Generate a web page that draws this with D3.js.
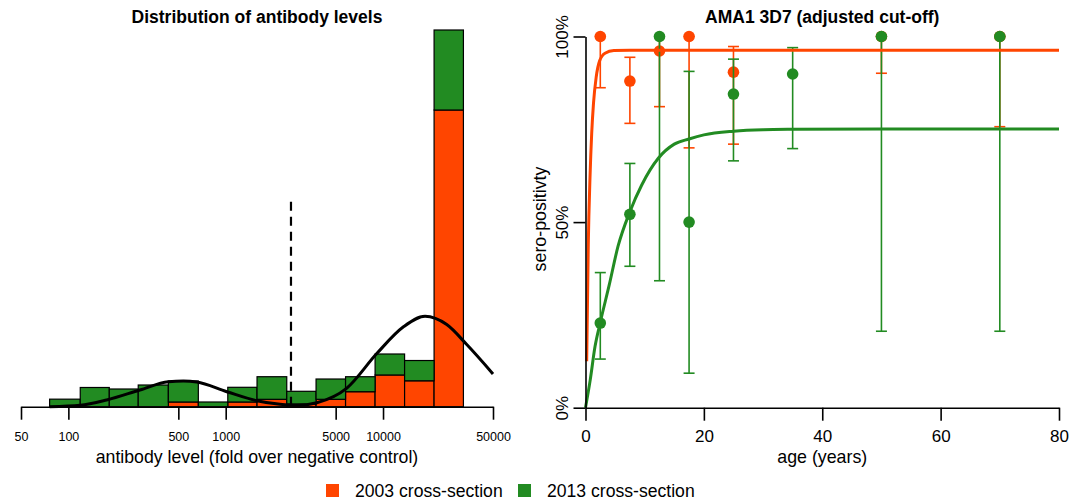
<!DOCTYPE html>
<html>
<head>
<meta charset="utf-8">
<script src="https://cdn.jsdelivr.net/npm/d3@7"></script>
<style>
    body { margin: 0; background: #fff; }
    svg text { font-family: "Liberation Sans", Arial, sans-serif; fill: #000; }
</style>
</head>
<body>
<div id="chart"></div>
<script>

    // ---- left panel: histogram of antibody levels ----
    var binEdges = [76, 119, 182, 278, 432, 670, 1031, 1582, 2444, 3753, 5779, 8902, 13710, 21110, 32430];
    var hist2003 = [0, 0, 0, 0, 1.25, 0, 1.25, 1.96, 0.72, 1.96, 3.98, 8.42, 6.88, 78.76];
    var hist2013 = [2.0, 5.1, 4.7, 5.76, 5.57, 1.25, 3.9, 6.0, 3.37, 5.39, 3.98, 5.57, 5.38, 21.24];
    var levelTicks = [50, 100, 500, 1000, 5000, 10000, 50000];
    var cutoff = 2600;

    // mixture density
    var densLevel = [76, 119, 175, 285, 432, 538, 655, 1016, 1575, 2216, 2832, 3795, 5888, 9125, 13490, 18500, 25410, 34050, 50000];
    var densHeight = [0, 0.37, 1.78, 4.43, 6.64, 6.82, 6.55, 3.98, 1.59, 0.64, 0.37, 1.06, 4.94, 14.1, 21.2, 24.0, 21.8, 16.5, 8.7];

    // ---- right panel: sero-positivity by age ----
    var age2003 = [2.5, 7.5, 12.5, 17.5, 25, 50, 70];
    var sero2003 = [100, 88.0, 96.1, 100, 90.4, 100, 100];
    var low2003 = [86.2, 76.6, 81.1, 70.0, 71.0, 90.1, 75.7];
    var high2003 = [100, 94.4, 100, 100, 97.3, 100, 100];

    var age2013 = [2.5, 7.5, 12.5, 17.5, 25, 35, 50, 70];
    var sero2013 = [22.8, 52.1, 100, 50, 84.5, 89.9, 100, 100];
    var low2013 = [13.1, 38.1, 34.2, 9.3, 66.5, 69.8, 20.6, 20.6];
    var high2013 = [36.4, 65.8, 100, 90.6, 93.9, 97.0, 100, 100];

    // fitted curves
    var fitAge2003 = [0.2, 0.47, 0.76, 1.05, 1.35, 1.8, 2.4, 3.3, 4.8, 7.5, 80];
    var fit2003 = [12.5, 44, 62, 74, 82, 89, 93.5, 95.5, 96.2, 96.3, 96.3];
    var fitAge2013 = [0, 0.8, 1.6, 2.5, 4, 5.5, 7.5, 9.5, 12.3, 15, 17.5, 20, 25, 30, 35, 50, 80];
    var fit2013 = [0, 7.5, 16.4, 23, 33, 43.5, 52.8, 60, 67.2, 71, 72.4, 73.5, 74.5, 74.9, 75.0, 75.1, 75.1];

    var ageTicks = [0, 20, 40, 60, 80];
    var seroTicks = [0, 50, 100];

    var legendLabels = ["2003 cross-section", "2013 cross-section"];
    var col2003 = "#FF4500", col2013 = "#228B22";

    var svg = d3.select("#chart")
        .append("svg")
        .attr("width", 1079)
        .attr("height", 500);

    svg.append("rect").attr("width", 1079).attr("height", 500).attr("fill", "#fff");

    // ================= left panel =================
    var x = d3.scaleLog()
        .domain([50, 50000])
        .range([21, 493]);
    var y = d3.scaleLinear()
        .domain([0, 100])
        .range([406.7, 30]);

    var bins = hist2003.map(function (v, i) {
        return {x0: binEdges[i], x1: binEdges[i + 1], a: v, b: hist2013[i]};
    });

    // 2003 at the bottom of each bar
    svg.append("g")
        .selectAll("rect")
        .data(bins.filter(function (d) { return d.a > 0; }))
        .enter()
        .append("rect")
        .attr("x", function (d) { return x(d.x0); })
        .attr("width", function (d) { return x(d.x1) - x(d.x0); })
        .attr("y", function (d) { return y(d.a); })
        .attr("height", function (d) { return y(0) - y(d.a); })
        .attr("fill", col2003)
        .attr("stroke", "#000")
        .attr("stroke-width", 1.2);

    // 2013 stacked on top
    svg.append("g")
        .selectAll("rect")
        .data(bins)
        .enter()
        .append("rect")
        .attr("x", function (d) { return x(d.x0); })
        .attr("width", function (d) { return x(d.x1) - x(d.x0); })
        .attr("y", function (d) { return y(d.a + d.b); })
        .attr("height", function (d) { return y(d.a) - y(d.a + d.b); })
        .attr("fill", col2013)
        .attr("stroke", "#000")
        .attr("stroke-width", 1.2);

    // cut-off
    svg.append("line")
        .attr("x1", x(cutoff)).attr("x2", x(cutoff))
        .attr("y1", y(54.4)).attr("y2", y(0))
        .attr("stroke", "#000")
        .attr("stroke-width", 2.2)
        .attr("stroke-dasharray", "9,6");

    // density curve
    var dens = densLevel.map(function (v, i) { return [v, densHeight[i]]; });
    svg.append("path")
        .datum(dens)
        .attr("fill", "none")
        .attr("stroke", "#000")
        .attr("stroke-width", 3)
        .attr("d", d3.line()
            .curve(d3.curveMonotoneX)
            .x(function (d) { return x(d[0]); })
            .y(function (d) { return y(d[1]); }));

    // Add X axis
    var ax = svg.append("g")
        .attr("transform", "translate(0," + y(0) + ")")
        .call(d3.axisBottom(x)
            .tickValues(levelTicks)
            .tickFormat(d3.format("d"))
            .tickSize(13)
            .tickSizeOuter(0)
            .tickPadding(12));
    ax.selectAll("path, line").attr("stroke", "#000").attr("stroke-width", 1.6);
    ax.selectAll("text").style("font-size", "12.5px");

    svg.append("text")
        .attr("x", 257).attr("y", 462.5)
        .style("text-anchor", "middle")
        .style("font-size", "17.7px")
        .text("antibody level (fold over negative control)");

    svg.append("text")
        .attr("x", 257).attr("y", 23)
        .style("text-anchor", "middle")
        .style("font-size", "17.5px")
        .style("font-weight", "bold")
        .text("Distribution of antibody levels");

    // ================= right panel =================
    var x2 = d3.scaleLinear()
        .domain([0, 80])
        .range([585.5, 1059]);
    var y2 = d3.scaleLinear()
        .domain([0, 100])
        .range([407.7, 36.5]);

    function drawGroup(ages, vals, lows, highs, col) {
        var pts = ages.map(function (a, i) {
            return {age: a, v: vals[i], lo: lows[i], hi: highs[i]};
        });
        var g = svg.append("g");
        g.selectAll("line.err")
            .data(pts)
            .enter()
            .append("line")
            .attr("class", "err")
            .attr("x1", function (d) { return x2(d.age); })
            .attr("x2", function (d) { return x2(d.age); })
            .attr("y1", function (d) { return y2(d.hi); })
            .attr("y2", function (d) { return y2(d.lo); })
            .attr("stroke", col)
            .attr("stroke-width", 1.6);
        ["lo", "hi"].forEach(function (k) {
            g.selectAll("line.cap" + k)
                .data(pts)
                .enter()
                .append("line")
                .attr("class", "cap" + k)
                .attr("x1", function (d) { return x2(d.age) - 5.5; })
                .attr("x2", function (d) { return x2(d.age) + 5.5; })
                .attr("y1", function (d) { return y2(d[k]); })
                .attr("y2", function (d) { return y2(d[k]); })
                .attr("stroke", col)
                .attr("stroke-width", 1.6);
        });
        g.selectAll("circle")
            .data(pts)
            .enter()
            .append("circle")
            .attr("cx", function (d) { return x2(d.age); })
            .attr("cy", function (d) { return y2(d.v); })
            .attr("r", 5.8)
            .style("fill", col);
    }

    function drawFit(ages, vals, col) {
        svg.append("path")
            .datum(ages.map(function (a, i) { return [a, vals[i]]; }))
            .attr("fill", "none")
            .attr("stroke", col)
            .attr("stroke-width", 3)
            .attr("d", d3.line()
                .curve(d3.curveMonotoneX)
                .x(function (d) { return x2(d[0]); })
                .y(function (d) { return y2(d[1]); }));
    }

    drawGroup(age2003, sero2003, low2003, high2003, col2003);
    drawGroup(age2013, sero2013, low2013, high2013, col2013);
    drawFit(fitAge2013, fit2013, col2013);
    drawFit(fitAge2003, fit2003, col2003);

    // Add X axis
    var ax2 = svg.append("g")
        .attr("transform", "translate(0," + y2(0) + ")")
        .call(d3.axisBottom(x2)
            .tickValues(ageTicks)
            .tickSize(13)
            .tickSizeOuter(0)
            .tickPadding(9));
    ax2.selectAll("path, line").attr("stroke", "#000").attr("stroke-width", 1.6);
    ax2.selectAll("text").style("font-size", "17px");

    // Add Y axis
    var ay2 = svg.append("g")
        .attr("transform", "translate(" + x2(0) + ",0)")
        .call(d3.axisLeft(y2)
            .tickValues(seroTicks)
            .tickFormat(function (d) { return d + "%"; })
            .tickSize(12)
            .tickSizeOuter(0));
    ay2.selectAll("path, line").attr("stroke", "#000").attr("stroke-width", 1.6);
    ay2.selectAll("text")
        .style("font-size", "17px")
        .style("text-anchor", "middle")
        .attr("transform", "rotate(-90)")
        .attr("x", 0)
        .attr("y", -18)
        .attr("dy", 0);

    // text label for the y axis
    svg.append("text")
        .attr("transform", "translate(546," + 219 + ") rotate(-90)")
        .style("text-anchor", "middle")
        .style("font-size", "17.8px")
        .text("sero-positivty");

    svg.append("text")
        .attr("x", x2(40)).attr("y", 463)
        .style("text-anchor", "middle")
        .style("font-size", "17.8px")
        .text("age (years)");

    svg.append("text")
        .attr("x", x2(40)).attr("y", 23)
        .style("text-anchor", "middle")
        .style("font-size", "17.5px")
        .style("font-weight", "bold")
        .text("AMA1 3D7 (adjusted cut-off)");

    // ================= legend =================
    var leg = svg.append("g")
        .selectAll("g")
        .data(legendLabels)
        .enter()
        .append("g")
        .attr("transform", function (d, i) { return "translate(" + (326 + i * 192) + ",0)"; });
    leg.append("rect")
        .attr("x", 0).attr("y", 484)
        .attr("width", 13).attr("height", 13)
        .attr("fill", function (d, i) { return i === 0 ? col2003 : col2013; });
    leg.append("text")
        .attr("x", 29).attr("y", 496.5)
        .style("font-size", "17.6px")
        .text(function (d) { return d; });

</script>
</body>
</html>
